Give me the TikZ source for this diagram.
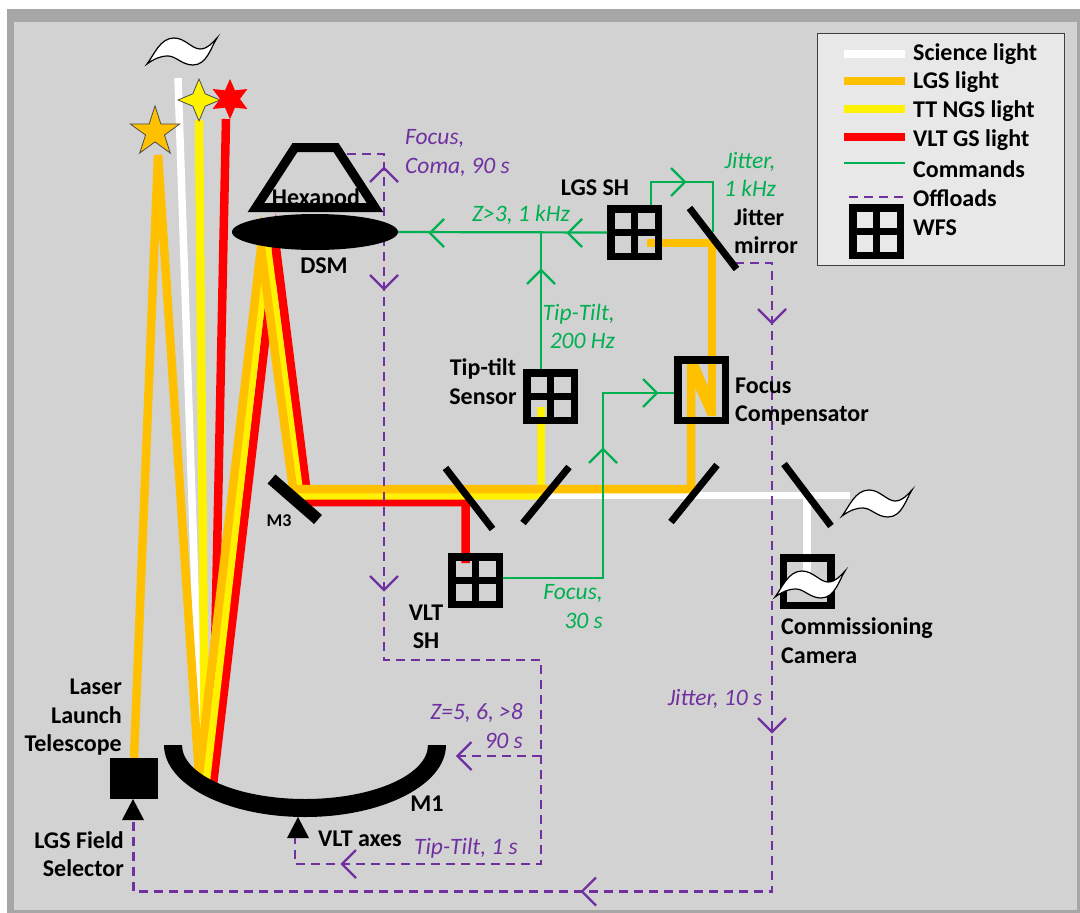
\documentclass[tikz,border=0pt]{standalone}
\usepackage{fontspec}
\setmainfont{Carlito}
\usepackage{xcolor}
\usetikzlibrary{shapes.geometric}
\definecolor{lgsorange}{HTML}{FFC000}
\definecolor{cmdgreen}{HTML}{00B050}
\definecolor{offpurple}{HTML}{7030A0}
\tikzset{
  beam/.style={line width=#1,line join=miter},
  beam/.default=8.5pt,
  cmdline/.style={draw=cmdgreen,line width=2.2pt},
  offline/.style={draw=offpurple,line width=2.2pt,dash pattern=on 9pt off 6pt},
  chev/.style={draw=#1,line width=2.4pt},
  mirror/.style={draw=black,line width=7pt},
  lbl/.style={font=\fontsize{24}{28.5}\selectfont\bfseries,inner sep=0pt,text=black,yshift=-1.5pt},
  cmdlbl/.style={font=\fontsize{23.5}{28.5}\selectfont\itshape,inner sep=0pt,text=cmdgreen,yshift=-1.5pt},
  offlbl/.style={font=\fontsize{23.5}{29}\selectfont\itshape,inner sep=0pt,text=offpurple,yshift=-1.5pt},
  wfs/.style={draw=black,line width=7.5pt,minimum size=47.5pt,inner sep=0pt,
    path picture={
      \draw[black,line width=7.5pt] (path picture bounding box.north) -- (path picture bounding box.south);
      \draw[black,line width=7.5pt] (path picture bounding box.west) -- (path picture bounding box.east);}},
  wave/.pic={
    \draw[fill=white,draw=black,line width=1.2pt]
      (-35,13) .. controls (-28,4) and (-22,-13) .. (-8,-13) .. controls (3,-13) and (10,-2) .. (18,-2)
      .. controls (26,-2) and (31,-9) .. (35,-13) .. controls (29,-4) and (25,14) .. (11,14)
      .. controls (0,14) and (-6,5) .. (-14,5) .. controls (-22,5) and (-28,8) .. (-35,13) -- cycle;}
}
\begin{document}
\begin{tikzpicture}[x=1pt,y=-1pt]
\useasboundingbox (0,0) rectangle (1080,913);
\fill[white] (0,0) rectangle (1080,913);
\fill[gray!70] (7,9) rectangle (1080,913);
\fill[gray!35] (14,22) rectangle (1077,910);
% beams
\coordinate (ltip) at (158,155);
\node[fill=black,minimum width=48pt,minimum height=41pt,inner sep=0pt] (llt) at (134,778.5) {};
\draw[beam=7.5pt,white] (178,78) -- (201,772);
\draw[beam,yellow] (199,120) -- (205,775);
\draw[beam,red] (226,119) -- (214,700);
\draw[beam,lgsorange] (llt.north) -- (ltip) -- (199,775);
\draw[beam=7.5pt,white] (480,495.7) -- (807,495.7) -- (807,572);
\draw[beam=7.5pt,white] (800,495.7) -- (850,495.7);
\draw[beam,red] (213,785) -- (276,248) -- (308,502) -- (465.7,502) -- (465.7,563);
\draw[beam=7.5pt,yellow] (206.5,780) -- (267.5,248) -- (300,495.8) -- (541,495.8) -- (541,407);
\draw[beam,lgsorange] (199,775) -- (261,248) -- (293,489) -- (691,489) -- (691,363);
\fill[lgsorange] (687,361) -- (697,361) -- (716,405) -- (716,416) -- (708,416) -- (687,370) -- cycle;
\draw[beam,lgsorange] (712,416) -- (712,243) -- (647,243);
% offload lines
\coordinate (hexoff) at (347,154);
\coordinate (jitoff) at (735,263);
\coordinate (z5end) at (452,756);
\coordinate (ttjoin) at (541,864);
\coordinate (ttend) at (295,838);
\coordinate (fieldend) at (133.5,820);
\draw[offline] (hexoff) -- (384,154) -- (384,660) -- (541,660) -- (ttjoin) -- (295,864) -- (ttend);
\draw[offline] (541,756) -- (z5end);
\draw[offline] (jitoff) -- (772,263) -- (772,891.5) -- (133.5,891.5) -- (fieldend);
\foreach \x/\y/\a in {384/168/90,384/289/270,384/590/270,772/323/270,772/732/270,457.5/756/180,342/864/180,582/891.5/180}
  \draw[chev=offpurple,shift={(\x,\y)},rotate=\a] (-14,-14) -- (0,0) -- (-14,14);
% optics
\draw[black,line width=9pt,line join=miter] (295,147.5) -- (336,147.5) -- (375,207.5) -- (256,207.5) -- cycle;
\node[ellipse,fill=black,minimum width=166pt,minimum height=36pt,inner sep=0pt] (dsm) at (315,232) {};
\fill[black] (164,745) arc[start angle=180,end angle=0,x radius=141,y radius=72] -- (428,745)
  arc[start angle=0,end angle=180,x radius=123,y radius=54] -- cycle;
\fill[black] (133,799) -- (144,820) -- (122,820) -- cycle;
\fill[black] (298,817) -- (309,838) -- (287,838) -- cycle;
\draw[black,line width=12pt] (271.5,479) -- (318,519.5);
\draw[mirror] (445.5,468) -- (492.5,529);
\draw[mirror] (523,523) -- (569,467);
\draw[mirror] (671,522) -- (717,465);
\draw[mirror] (784,464) -- (831,526);
\draw[mirror] (689.5,208) -- (736.5,269);
\node[wfs] (lgssh) at (634.5,232.5) {};
\node[wfs] (ttsensor) at (550.5,396.5) {};
\node[wfs] (vltsh) at (475.5,580.5) {};
\node[draw=black,line width=7.5pt,minimum width=47.5pt,minimum height=60.5pt,inner sep=0pt] (focuscomp) at (701.5,390) {};
\node[draw=black,line width=7.5pt,minimum size=47.5pt,inner sep=0pt] (ccd) at (807,581.5) {};
% command lines
\coordinate (ttup) at (541,233);
\coordinate (focusup) at (603,393);
\coordinate (jitleft) at (651,182);
\coordinate (jitright) at (713,182);
\draw[cmdline] (lgssh.west) -- (dsm.east);
\draw[cmdline] (ttsensor.north-|ttup) -- (ttup);
\draw[cmdline] ([yshift=2.5pt]vltsh.east) -| (focusup) -- (focuscomp.west|-focusup);
\draw[cmdline] (lgssh.north-|jitleft) -- (jitleft) -- (jitright) -- (713,232);
\foreach \x/\y/\a in {430/233/180,568/233/180,541/270/90,685/182/0,603/449/90,657/393/0}
  \draw[chev=cmdgreen,shift={(\x,\y)},rotate=\a] (-14,-14) -- (0,0) -- (-14,14);
% sources
\pic at (182,51) {wave};
\pic at (877,503) {wave};
\pic at (810,584) {wave};
\node[star,star points=5,star point ratio=2.618,minimum size=52pt,inner sep=0pt,fill=lgsorange,draw=black!70,line width=0.8pt] (lgsstar) at (155,132) {};
\node[star,star points=4,star point ratio=2.4,minimum size=42pt,inner sep=0pt,fill=yellow,draw=black!70,line width=0.8pt] (ngsstar) at (199,100) {};
\node[star,star points=6,star point ratio=2,minimum size=40pt,inner sep=0pt,fill=red] (vltstar) at (230,99) {};
% labels
\node[lbl] (hexlbl) at (316,197) {Hexapod};
\node[lbl] (dsmlbl) at (324,264) {DSM};
\node[lbl,font=\fontsize{18}{20}\selectfont\bfseries] (m3lbl) at (279,519) {M3};
\node[lbl] (m1lbl) at (427,802) {M1};
\node[lbl] (axeslbl) at (360,837) {VLT axes};
\node[lbl,anchor=east,align=right] (lltlbl) at (122,716) {Laser\\Launch\\Telescope};
\node[lbl,anchor=east,align=right] (fieldlbl) at (124,852.5) {LGS Field\\Selector};
\node[lbl] (lgslbl) at (595,186) {LGS SH};
\node[lbl,anchor=west,align=left] (jitlbl) at (734,229.5) {Jitter\\mirror};
\node[lbl,align=center] (ttlbl) at (483,380) {Tip-tilt\\Sensor};
\node[lbl,anchor=west,align=left] (foclbl) at (735,400) {Focus\\Compensator};
\node[lbl,align=center] (vltlbl) at (426,625.5) {VLT\\SH};
\node[lbl,anchor=west,align=left] (camlbl) at (781,639) {Commissioning\\Camera};
\node[cmdlbl] (z3lbl) at (521,213) {Z>3, 1 kHz};
\node[cmdlbl,align=center] (jit1lbl) at (750,173) {Jitter,\\1 kHz};
\node[cmdlbl,anchor=east,align=right] (tt200lbl) at (615,325) {Tip-Tilt,\\200 Hz};
\node[cmdlbl,anchor=east,align=right] (f30lbl) at (603,605) {Focus,\\30 s};
\node[offlbl,anchor=west,align=left] (comalbl) at (405,151) {Focus,\\Coma, 90 s};
\node[offlbl,anchor=east,align=right] (z5lbl) at (523,724.5) {Z=5, 6, >8\\90 s};
\node[offlbl] (jit10lbl) at (715,697) {Jitter, 10 s};
\node[offlbl] (tt1lbl) at (466,847) {Tip-Tilt, 1 s};
% legend
\node[draw=black!75,line width=1pt,fill=black!9,minimum width=247pt,minimum height=232pt,inner sep=0pt] (legend) at (940.5,149) {};
\foreach \y/\ty/\c/\w/\t in {53.5/53/white/8pt/Science light,81/81/lgsorange/8pt/LGS light,109/110/yellow/8pt/TT NGS light,136.5/139/red/8pt/VLT GS light,163/168/cmdgreen/2.2pt/Commands}
  {\draw[draw=\c,line width=\w] (844,\y) -- (905,\y);
   \node[lbl,anchor=west] at (913,\ty) {\t};}
\draw[offline] (849,197) -- (905,197);
\node[lbl,anchor=west] (offleg) at (913,197) {Offloads};
\node[wfs] (wfsleg) at (876.5,231.5) {};
\node[lbl,anchor=west] (wfsname) at (913,226) {WFS};
\end{tikzpicture}
\end{document}
